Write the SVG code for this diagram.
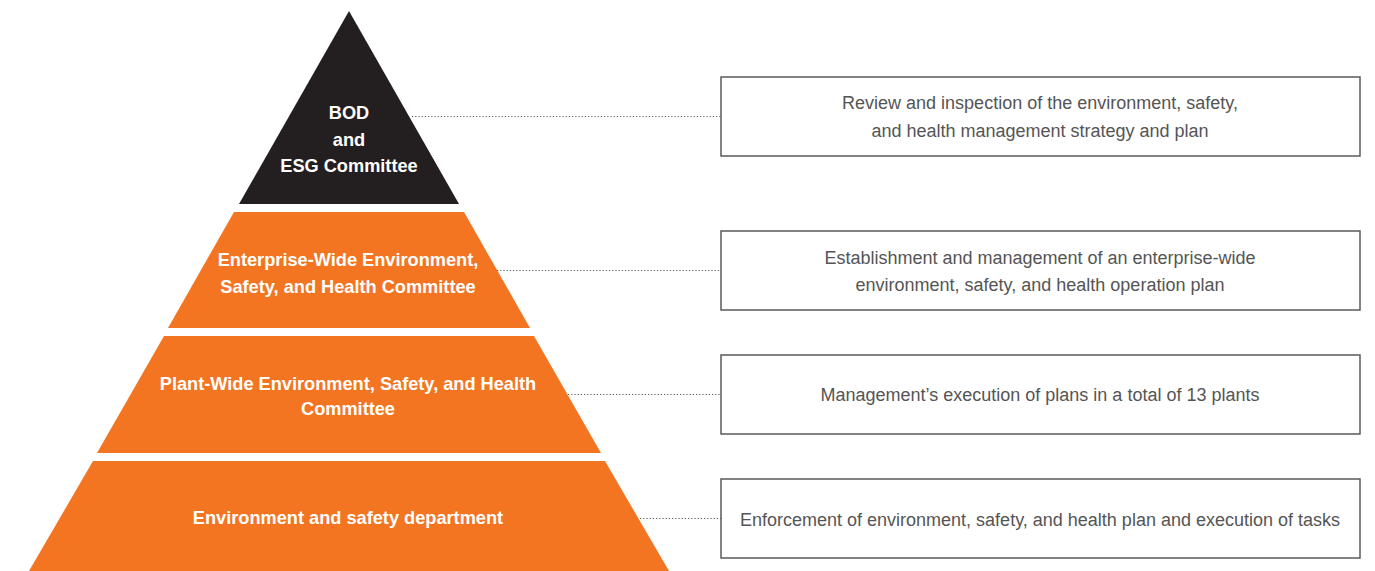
<svg xmlns="http://www.w3.org/2000/svg" width="1375" height="571" viewBox="0 0 1375 571">
<style>
.lvl{font-family:"Liberation Sans",Arial,sans-serif;font-weight:bold;font-size:18.2px;fill:#ffffff;text-anchor:middle}
.box{fill:#ffffff;stroke:#5a5a5a;stroke-width:1.5}
.desc{font-family:"Liberation Sans",Arial,sans-serif;font-size:18px;fill:#555555;text-anchor:middle}
.dot{stroke:#5a5a5a;stroke-width:1.2;stroke-dasharray:1.2 2;fill:none}
</style>
<rect width="1375" height="571" fill="#ffffff"/>
<g id="connectors">
<line class="dot" x1="412" y1="116.5" x2="721" y2="116.5"/>
<line class="dot" x1="497" y1="270.5" x2="721" y2="270.5"/>
<line class="dot" x1="568" y1="394.5" x2="721" y2="394.5"/>
<line class="dot" x1="640" y1="518.5" x2="721" y2="518.5"/>
</g>
<g id="level1">
<polygon points="349,11 459,204 239,204" fill="#231f20"/>
<text class="lvl" x="349" y="119">BOD</text>
<text class="lvl" x="349" y="146">and</text>
<text class="lvl" x="349" y="172">ESG Committee</text>
</g>
<g id="level2">
<polygon points="234,212 464,212 530,328 168,328" fill="#f37521"/>
<text class="lvl" x="348" y="266">Enterprise-Wide Environment,</text>
<text class="lvl" x="348" y="293">Safety, and Health Committee</text>
</g>
<g id="level3">
<polygon points="164,336 534,336 601,453 97,453" fill="#f37521"/>
<text class="lvl" x="348" y="390">Plant-Wide Environment, Safety, and Health</text>
<text class="lvl" x="348" y="415">Committee</text>
</g>
<g id="level4">
<polygon points="93,461 605,461 669,571 29,571" fill="#f37521"/>
<text class="lvl" x="348" y="524">Environment and safety department</text>
</g>
<g id="box1">
<rect class="box" x="721" y="77" width="639" height="79"/>
<text class="desc" x="1040" y="109">Review and inspection of the environment, safety,</text>
<text class="desc" x="1040" y="137">and health management strategy and plan</text>
</g>
<g id="box2">
<rect class="box" x="721" y="231" width="639" height="79"/>
<text class="desc" x="1040" y="264">Establishment and management of an enterprise-wide</text>
<text class="desc" x="1040" y="291">environment, safety, and health operation plan</text>
</g>
<g id="box3">
<rect class="box" x="721" y="355" width="639" height="79"/>
<text class="desc" x="1040" y="401">Management’s execution of plans in a total of 13 plants</text>
</g>
<g id="box4">
<rect class="box" x="721" y="479" width="639" height="79"/>
<text class="desc" x="1040" y="526">Enforcement of environment, safety, and health plan and execution of tasks</text>
</g>
</svg>
